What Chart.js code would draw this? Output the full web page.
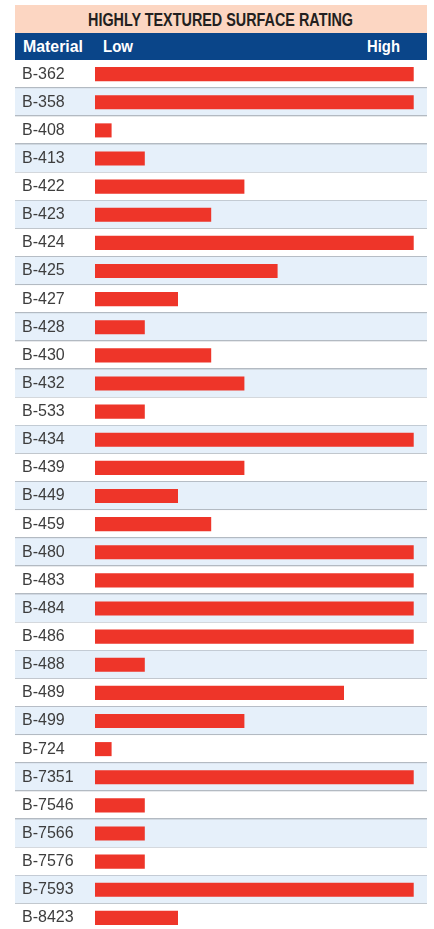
<!DOCTYPE html>
<html>
<head>
<meta charset="utf-8">
<script src="https://cdn.jsdelivr.net/npm/chart.js@4/dist/chart.umd.min.js"></script>
<style>
  body { margin: 0; background: #fff; width: 434px; height: 929px; position: relative; overflow: hidden; }
  .title { position: absolute; left: 15px; top: 5px; width: 412px; height: 28px; background: #fcd6c2; }
  .title span { position: absolute; left: 88px; top: 5px; white-space: nowrap; transform-origin: 0 0;
                font: bold 18px "Liberation Sans", sans-serif; color: #231f20; }
  .head { position: absolute; left: 15px; top: 33px; width: 412px; height: 27px; background: #0a4589; }
  .head span { position: absolute; top: 4px; white-space: nowrap; transform-origin: 0 0;
               font: bold 17px "Liberation Sans", sans-serif; color: #fff; }
  #wrap { position: absolute; left: 15px; top: 60px; width: 412px; height: 872px; }
</style>
</head>
<body>
<div class="title"><span data-w="265" style="left:73px">HIGHLY TEXTURED SURFACE RATING</span></div>
<div class="head">
  <span data-w="60" style="left:8px">Material</span>
  <span data-w="30" style="left:88px">Low</span>
  <span data-w="33" style="left:352px">High</span>
</div>
<div id="wrap"><canvas id="rating" width="412" height="872"></canvas></div>
<script>
// squeeze the header text to a condensed look
document.querySelectorAll('[data-w]').forEach(el => {
    el.style.transform = 'scaleX(' + (el.dataset.w / el.getBoundingClientRect().width) + ')';
});

const materials = ['B-362','B-358','B-408','B-413','B-422','B-423','B-424','B-425','B-427','B-428',
                   'B-430','B-432','B-533','B-434','B-439','B-449','B-459','B-480','B-483','B-484',
                   'B-486','B-488','B-489','B-499','B-724','B-7351','B-7546','B-7566','B-7576','B-7593','B-8423'];
const ratings = [9.6, 9.6, 0.5, 1.5, 4.5, 3.5, 9.6, 5.5, 2.5, 1.5,
                 3.5, 4.5, 1.5, 9.6, 4.5, 2.5, 3.5, 9.6, 9.6, 9.6,
                 9.6, 1.5, 7.5, 4.5, 0.5, 9.6, 1.5, 1.5, 1.5, 9.6, 2.5];
const scaleMax = 10;

// striped rows + separators, drawn before the axes
const rowBands = {
    id: 'rowBands',
    beforeDraw(chart) {
        const ctx = chart.ctx, y = chart.scales.y;
        const step = (y.bottom - y.top) / materials.length;
        ctx.save();
        materials.forEach((m, i) => {
            const c = y.getPixelForValue(i);
            ctx.fillStyle = i % 2 ? '#e6f0fa' : '#ffffff';
            ctx.fillRect(0, c - step / 2, chart.width, step);
            ctx.fillStyle = '#b3bac2';
            ctx.fillRect(0, Math.round(c + step / 2) - 1, chart.width, 2);
        });
        ctx.restore();
    }
};

new Chart(document.getElementById('rating'), {
    type: 'bar',
    data: { labels: materials, datasets: [{ data: ratings, backgroundColor: '#ee3529',
            barPercentage: 0.5, categoryPercentage: 1 }] },
    options: {
        indexAxis: 'y', responsive: false, animation: false, devicePixelRatio: 1,
        layout: { padding: { left: 7, right: 0, top: 0, bottom: 0 } },
        plugins: { legend: { display: false }, tooltip: { enabled: false } },
        scales: {
            x: { min: 0, max: scaleMax, display: false },
            y: {
                grid: { display: false }, border: { display: false },
                afterFit(s) { s.width = 73; },
                ticks: { crossAlign: 'far', padding: 0, color: '#3d3d3d', autoSkip: false,
                         font: { family: 'Liberation Sans', size: 16, lineHeight: 0.01 } }
            }
        }
    },
    plugins: [rowBands]
});
</script>
</body>
</html>
